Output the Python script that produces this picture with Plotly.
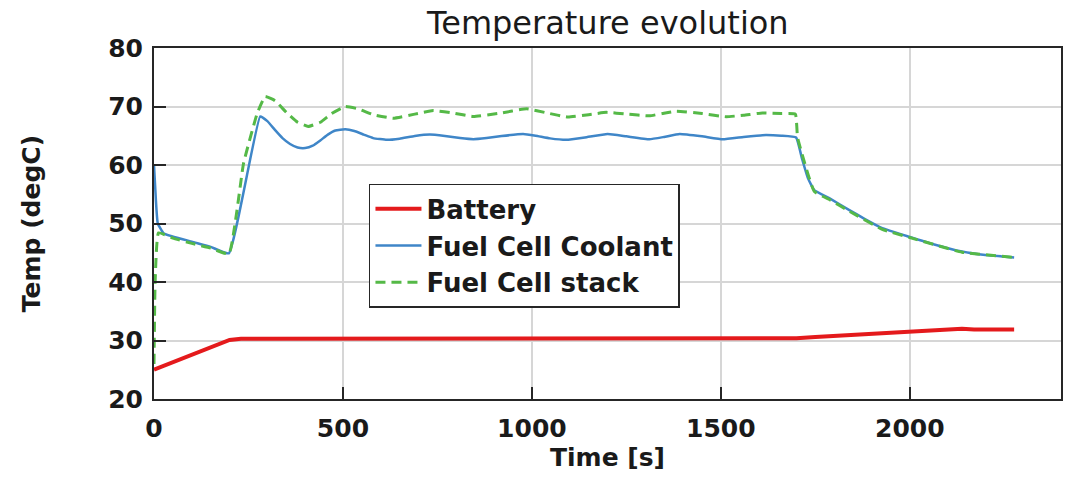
import plotly.graph_objects as go

# ---- data ----
battery_t = [0, 200, 230, 1700, 1750, 2000, 2138, 2170, 2276]
battery_v = [25.0, 30.1, 30.3, 30.4, 30.6, 31.4, 32.0, 31.9, 31.9]

coolant_t = [0, 5, 10, 26, 100, 150, 198,
             281, 300, 320, 340, 360, 380, 400, 420, 440, 460, 480, 506,
             530, 555, 580, 616, 650, 690, 730, 770, 810, 845, 880, 920, 977,
             1010, 1048, 1091, 1140, 1200, 1250, 1311, 1350, 1391, 1450, 1505, 1560, 1610, 1660, 1699,
             1715, 1730, 1747, 1790, 1840, 1880, 1927, 2000, 2060, 2138, 2200, 2276]
coolant_v = [60, 54, 50, 48.3, 46.9, 46.0, 44.9,
             68.3, 67.5, 66.0, 64.6, 63.6, 63.0, 62.9, 63.3, 64.2, 65.2, 65.9, 66.1,
             65.8, 65.2, 64.6, 64.3, 64.5, 64.95, 65.2, 64.95, 64.6, 64.4, 64.6, 64.95, 65.3,
             65.0, 64.55, 64.3, 64.7, 65.3, 64.9, 64.4, 64.8, 65.3, 64.9, 64.4, 64.8, 65.1, 65.0, 64.7,
             61, 57.8, 55.7, 54.2, 52.3, 50.8, 49.2, 47.7, 46.5, 45.2, 44.6, 44.2]

stack_t = [0, 3, 12, 50, 100, 150, 198,
           237, 273, 294, 320, 350, 380, 408, 440, 470, 506,
           540, 580, 633, 690, 739, 790, 845, 910, 986,
           1040, 1095, 1150, 1197, 1250, 1311, 1345, 1382, 1450, 1514, 1560, 1610, 1660, 1697,
           1703, 1747, 1790, 1840, 1927, 2000, 2138, 2276]
stack_v = [26, 40, 48.4, 47.5, 46.6, 45.8, 44.8,
           60.3, 68.8, 71.7, 71.0, 69.0, 67.3, 66.6, 67.3, 68.8, 70.0,
           69.6, 68.6, 68.0, 68.7, 69.3, 68.9, 68.3, 68.8, 69.6,
           68.9, 68.2, 68.6, 69.0, 68.7, 68.4, 68.8, 69.2, 68.8, 68.25, 68.5, 68.9, 68.8, 68.7,
           64.7, 55.5, 54.0, 52.1, 49.0, 47.6, 45.1, 44.2]

x_ticks = [0, 500, 1000, 1500, 2000]
y_ticks = [20, 30, 40, 50, 60, 70, 80]

FONT = "DejaVu Sans"
DARK = "#262626"
TXT = "#1a1a1a"

fig = go.Figure()
fig.add_trace(go.Scatter(x=battery_t, y=battery_v, mode="lines", name="<b>Battery</b>",
                         line=dict(color="#e41a1c", width=4)))
fig.add_trace(go.Scatter(x=coolant_t, y=coolant_v, mode="lines", name="<b>Fuel Cell Coolant</b>",
                         line=dict(color="#3f86c8", width=2.5, shape="spline", smoothing=0.35)))
fig.add_trace(go.Scatter(x=stack_t, y=stack_v, mode="lines", name="<b>Fuel Cell stack</b>",
                         line=dict(color="#55b947", width=3, dash="10px,6px",
                                   shape="spline", smoothing=0.35)))

axis_common = dict(
    showgrid=True, gridcolor="#d6d6d6", gridwidth=1.5,
    showline=True, linecolor=DARK, linewidth=2, mirror=True,
    ticks="inside", ticklen=12, tickwidth=2, tickcolor=DARK,
    zeroline=False,
    tickfont=dict(family=FONT, size=25, color=TXT, weight="bold"),
)

fig.update_layout(
    width=1073, height=478,
    margin=dict(l=154, r=10, t=48, b=79),
    paper_bgcolor="white", plot_bgcolor="white",
    font=dict(family=FONT, color=TXT),
    title=dict(text="Temperature evolution", x=0.5665, xanchor="center",
               y=0.952, yref="container", yanchor="middle",
               font=dict(family=FONT, size=32, color=TXT)),
    xaxis=dict(range=[0, 2400], tickvals=x_ticks, ticklabelstandoff=6,
               title=dict(text="<b>Time [s]</b>", font=dict(family=FONT, size=25), standoff=6),
               **axis_common),
    yaxis=dict(range=[20, 80], tickvals=y_ticks, ticklabelstandoff=4,
               title=dict(text="<b>Temp (degC)</b>", font=dict(family=FONT, size=25), standoff=60),
               **axis_common),
    legend=dict(x=0.237, y=0.613, xanchor="left", yanchor="top",
                itemwidth=46,
                bgcolor="white", bordercolor=DARK, borderwidth=1.5,
                font=dict(family=FONT, size=26, color=TXT)),
    showlegend=True,
)

fig.write_html("out.html")
